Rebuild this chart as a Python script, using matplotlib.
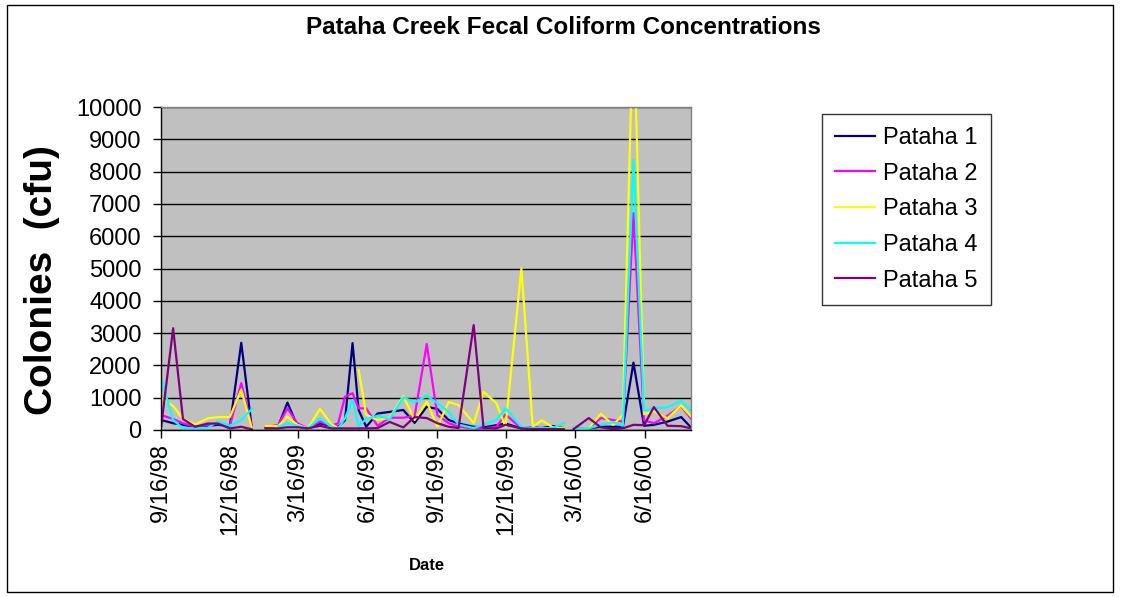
import numpy as np
import matplotlib
matplotlib.use("Agg")
import matplotlib.pyplot as plt
import matplotlib.dates as mdates
from matplotlib.ticker import FuncFormatter
from matplotlib.patches import Rectangle
from datetime import datetime

nan = np.nan

# sampling dates; the two all-blank rows are weeks with no samples (breaks the lines)
dates = [
    "1998-09-16", "1998-10-02", "1998-10-15", "1998-10-31", "1998-11-17", "1998-11-30",
    "1998-12-16", "1998-12-31", "1999-01-14",
    "1999-01-25",
    "1999-02-01", "1999-02-18", "1999-03-02", "1999-03-15", "1999-03-29", "1999-04-14",
    "1999-04-29", "1999-05-08", "1999-05-17", "1999-05-27", "1999-06-04", "1999-06-14",
    "1999-06-29", "1999-07-15", "1999-08-02", "1999-08-17", "1999-09-02", "1999-09-16",
    "1999-10-01", "1999-10-14", "1999-11-03", "1999-11-16", "1999-12-03", "1999-12-15",
    "2000-01-05", "2000-01-20", "2000-02-01", "2000-02-15", "2000-03-01",
    "2000-03-08",
    "2000-03-14", "2000-04-03", "2000-04-19", "2000-05-05", "2000-05-18", "2000-06-01",
    "2000-06-15", "2000-06-28", "2000-07-16", "2000-08-03", "2000-08-16",
]

pataha1 = [310, 210, 160, 100, 130, 160, 130, 2700, 50,
           nan,
           100, 130, 850, 130, 50, 200, 130, 100, 300, 2690, 620, 100, 510, 560, 620, 220,
           720, 650, 310, 200, 100, 80, 150, 200, 50, 80, 60, 125, 60,
           nan,
           30, 50, 100, 100, 100, 2085, 130, 160, 260, 400, 80]
pataha2 = [465, 340, 210, 100, 160, 210, 130, 1450, 100,
           nan,
           85, 160, 670, 210, 50, 260, 130, 210, 1030, 1140, 670, 670, 130, 380, 380, 440,
           2660, 460, 210, 100, 50, 50, 100, 480, 50, 50, 60, 50, 50,
           nan,
           30, 50, 370, 310, 260, 6710, 300, 210, 440, 740, 350]
pataha3 = [990, 740, 350, 170, 360, 400, 400, 1250, 50,
           nan,
           125, 125, 410, 160, 50, 650, 180, 60, nan, nan, 1860, 470, 310, 380, 1050, 310,
           880, 100, 870, 770, 210, 1180, 830, 100, 5000, 100, 300, 90, 60,
           nan,
           30, 50, 500, 160, 465, 13000, 490, 580, 360, 760, 420]
pataha4 = [1600, 310, 50, 50, 70, 260, 130, 310, 650,
           nan,
           nan, 100, 210, 130, 50, 360, 100, 50, 360, 930, 130, 340, 440, 340, 1010, 855,
           1060, 830, 560, 165, 60, 165, 310, 670, 90, 60, 60, 60, 210,
           nan,
           30, 50, 160, 240, 130, 8360, 600, 680, 700, 900, 600]
pataha5 = [60, 3150, 340, 100, 200, 200, 50, 100, 20,
           nan,
           50, 50, 85, 85, 50, 130, 50, 50, 50, 50, 50, 50, 60, 250, 80, 400,
           370, 210, 100, 60, 3250, 60, 50, 160, 50, 30, 30, 30, 30,
           nan,
           30, 370, 80, 30, 50, 160, 150, 710, 130, 120, 50]

series_names = ["Pataha 1", "Pataha 2", "Pataha 3", "Pataha 4", "Pataha 5"]
series_colors = ["#000080", "#FF00FF", "#FFFF00", "#00FFFF", "#800080"]
tick_dates = ["1998-09-16", "1998-12-16", "1999-03-16", "1999-06-16",
              "1999-09-16", "1999-12-16", "2000-03-16", "2000-06-16"]

plt.rcParams['font.family'] = ['Liberation Sans', 'DejaVu Sans']

x = [datetime.strptime(d, "%Y-%m-%d") for d in dates]

fig = plt.figure(figsize=(11.21, 5.97), dpi=100)
ax = fig.add_axes([161 / 1121, 1 - 430 / 597, 530 / 1121, 323 / 597])
ax.set_facecolor("#C0C0C0")

for name, vals, color in zip(series_names, [pataha1, pataha2, pataha3, pataha4, pataha5], series_colors):
    ax.plot(x, np.array(vals, dtype=float), color=color, lw=1.6, label=name)

ax.set_ylim(0, 10000)
ax.set_yticks(range(0, 10001, 1000))
ax.grid(axis="y", color="black", lw=1)
ax.set_axisbelow(True)

ax.set_xlim(x[0], x[-1])
ax.set_xticks([datetime.strptime(d, "%Y-%m-%d") for d in tick_dates])


def date_label(v, pos):
    d = mdates.num2date(v)
    return f"{d.month}/{d.day}/{d.strftime('%y')}"


ax.xaxis.set_major_formatter(FuncFormatter(date_label))
ax.tick_params(axis="both", direction="out", length=6, width=1, labelsize=17, colors="black")
ax.tick_params(axis="y", pad=8)
ax.tick_params(axis="x", labelrotation=90)

for side in ["left", "bottom"]:
    ax.spines[side].set_color("black")
    ax.spines[side].set_linewidth(1)
for side in ["top", "right"]:
    ax.spines[side].set_color("#808080")
    ax.spines[side].set_linewidth(1)

leg = ax.legend(loc="upper left", bbox_to_anchor=(822 / 1121, 1 - 114 / 597),
                bbox_transform=fig.transFigure, fontsize=17, frameon=True, fancybox=False,
                edgecolor="black", handlelength=1.7, handletextpad=0.35, labelspacing=0.58,
                borderpad=0.55, borderaxespad=0)
leg.get_frame().set_linewidth(1)
for line in leg.get_lines():
    line.set_linewidth(1.6)

fig.text(0.503, 1 - 28 / 597, "Pataha Creek Fecal Coliform Concentrations",
         ha="center", va="center", fontsize=17.5, fontweight="bold")
fig.text(42 / 1121, 1 - 280 / 597, "Colonies  (cfu)", rotation=90,
         ha="center", va="center", fontsize=28, fontweight="bold")
fig.text(427 / 1121, 1 - 566 / 597, "Date", ha="center", va="center",
         fontsize=12, fontweight="bold")

fig.add_artist(Rectangle((7 / 1121, 5 / 597), 1106 / 1121, 587 / 597,
                         transform=fig.transFigure, fill=False, edgecolor="black", lw=1))

plt.savefig("out.png", dpi=100)
